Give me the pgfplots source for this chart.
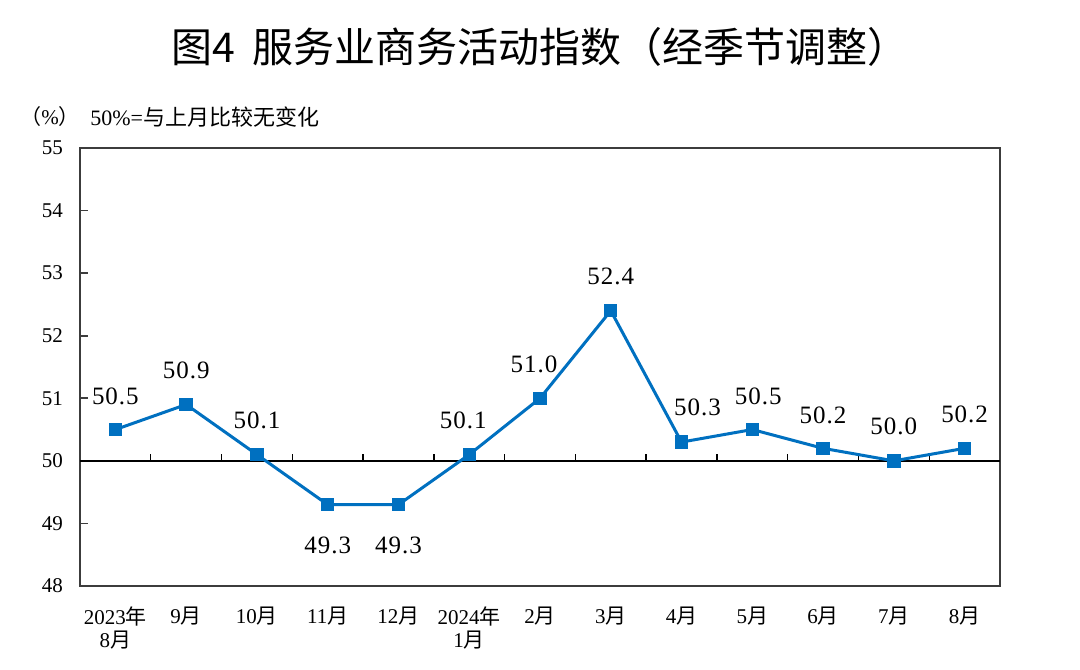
\documentclass[border=0pt]{standalone}
\usepackage{pgfplots}
\pgfplotsset{compat=1.18}
\usepackage{fontspec}
\setmainfont{Liberation Serif}
\newfontfamily\cjk{Noto Sans CJK SC}
\newcommand\zh[1]{{\cjk #1}}
\definecolor{lineblue}{RGB}{0,112,192}
\definecolor{framegray}{RGB}{60,60,60}
\begin{document}
\begin{tikzpicture}
\begin{axis}[
  name=ax,
  scale only axis,
  width=460pt, height=219pt,
  xmin=-0.5, xmax=12.5,
  ymin=48, ymax=55,
  ytick={48,49,50,51,52,53,54,55},
  xtick={0,...,12},
  xticklabels={{2023\zh{年}\\8\zh{月}},{9\zh{月}},{10\zh{月}},{11\zh{月}},{12\zh{月}},{2024\zh{年}\\1\zh{月}},{2\zh{月}},{3\zh{月}},{4\zh{月}},{5\zh{月}},{6\zh{月}},{7\zh{月}},{8\zh{月}}},
  xticklabel style={align=center, font=\fontsize{10.5}{11.5}\selectfont, yshift=-7pt},
  yticklabel style={font=\fontsize{10.5}{12}\selectfont, xshift=-5pt},
  ytick pos=left,
  tick align=inside,
  major tick length=4pt,
  every x tick/.style={draw=none},
  every y tick/.style={draw=framegray, line width=0.9pt},
  /pgf/number format/assume math mode=true,
  axis line style={framegray, line width=1pt},
  clip=false,
  visualization depends on={value \thisrow{d} \as \dy},
  visualization depends on={value \thisrow{dx} \as \dx},
  nodes near coords={\pgfmathprintnumber[fixed,fixed zerofill,precision=1]{\pgfplotspointmeta}},
  every node near coord/.append style={anchor=center, yshift=\dy pt, xshift=\dx pt, font=\fontsize{12.5}{14}\selectfont\addfontfeature{LetterSpace=4}, black},
]
\draw[black, line width=0.9pt] (axis cs:-0.5,50) -- (axis cs:12.5,50);
\pgfplotsinvokeforeach{0.5,1.5,2.5,3.5,4.5,5.5,6.5,7.5,8.5,9.5,10.5,11.5}{
  \draw[black, line width=0.7pt] (axis cs:#1,50) -- (axis cs:#1,50.11);
}
\addplot[color=lineblue, line width=1.5pt, mark=square*, mark size=2.6pt, mark options={solid, fill=lineblue}]
table {
x y d dx
0 50.5 16.5 0
1 50.9 17 0
2 50.1 17 0
3 49.3 -20.5 0
4 49.3 -20.5 0
5 50.1 17 -3
6 51.0 17 -3
7 52.4 17 0
8 50.3 17.5 8
9 50.5 16.5 3
10 50.2 16.5 0
11 50.0 17 0
12 50.2 17 0
};
\end{axis}
\node[font=\cjk\fontsize{20.5}{24}\selectfont] at ([yshift=50.5pt]ax.north) {图4\hspace{0.4em}服务业商务活动指数（经季节调整）};
\node[font=\fontsize{10.5}{12}\selectfont, inner sep=0pt] at ([xshift=-15pt, yshift=15.5pt]ax.north west) {\zh{（}\%\zh{）}};
\node[anchor=west, font=\fontsize{11}{12}\selectfont, inner sep=0pt] at ([xshift=5pt, yshift=15.5pt]ax.north west) {50\%=\zh{与上月比较无变化}};
\path ([shift={(-40pt,-42pt)}]ax.south west) rectangle ([shift={(40pt,74pt)}]ax.north east);
\end{tikzpicture}
\end{document}
